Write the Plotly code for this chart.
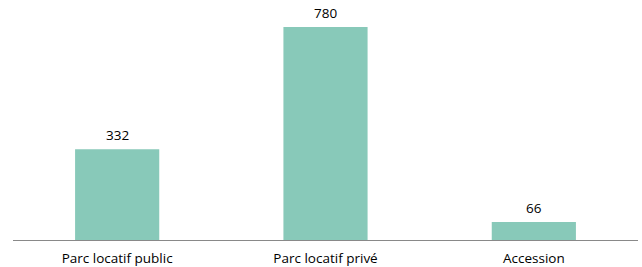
import plotly.graph_objects as go

categories = ["Parc locatif public", "Parc locatif privé", "Accession"]
values = [332, 780, 66]

fig = go.Figure(go.Bar(
    x=categories, y=values,
    marker=dict(color="#88C9B9", line=dict(width=0)),
    hoverinfo="skip",
))
for c, v in zip(categories, values):
    fig.add_annotation(x=c, y=v, text=str(v), showarrow=False,
                       yanchor="bottom", yshift=3,
                       font=dict(size=13.5, color="#000000"))
fig.update_layout(
    width=642, height=267,
    margin=dict(l=13, r=4, t=10, b=27),
    paper_bgcolor="white", plot_bgcolor="white",
    bargap=0.596,
    showlegend=False,
    font=dict(family="'Open Sans', sans-serif", size=13.5, color="#000000"),
    xaxis=dict(showline=True, linecolor="#898989", linewidth=1, automargin=False,
               ticks="outside", ticklen=6, tickcolor="rgba(0,0,0,0)",
               tickfont=dict(size=13.5), showgrid=False),
    yaxis=dict(range=[0, 842], visible=False, showgrid=False, zeroline=False,
               automargin=False),
)
fig.write_html("out.html", config={"displayModeBar": False},
               post_script="document.body.style.margin='0';")
